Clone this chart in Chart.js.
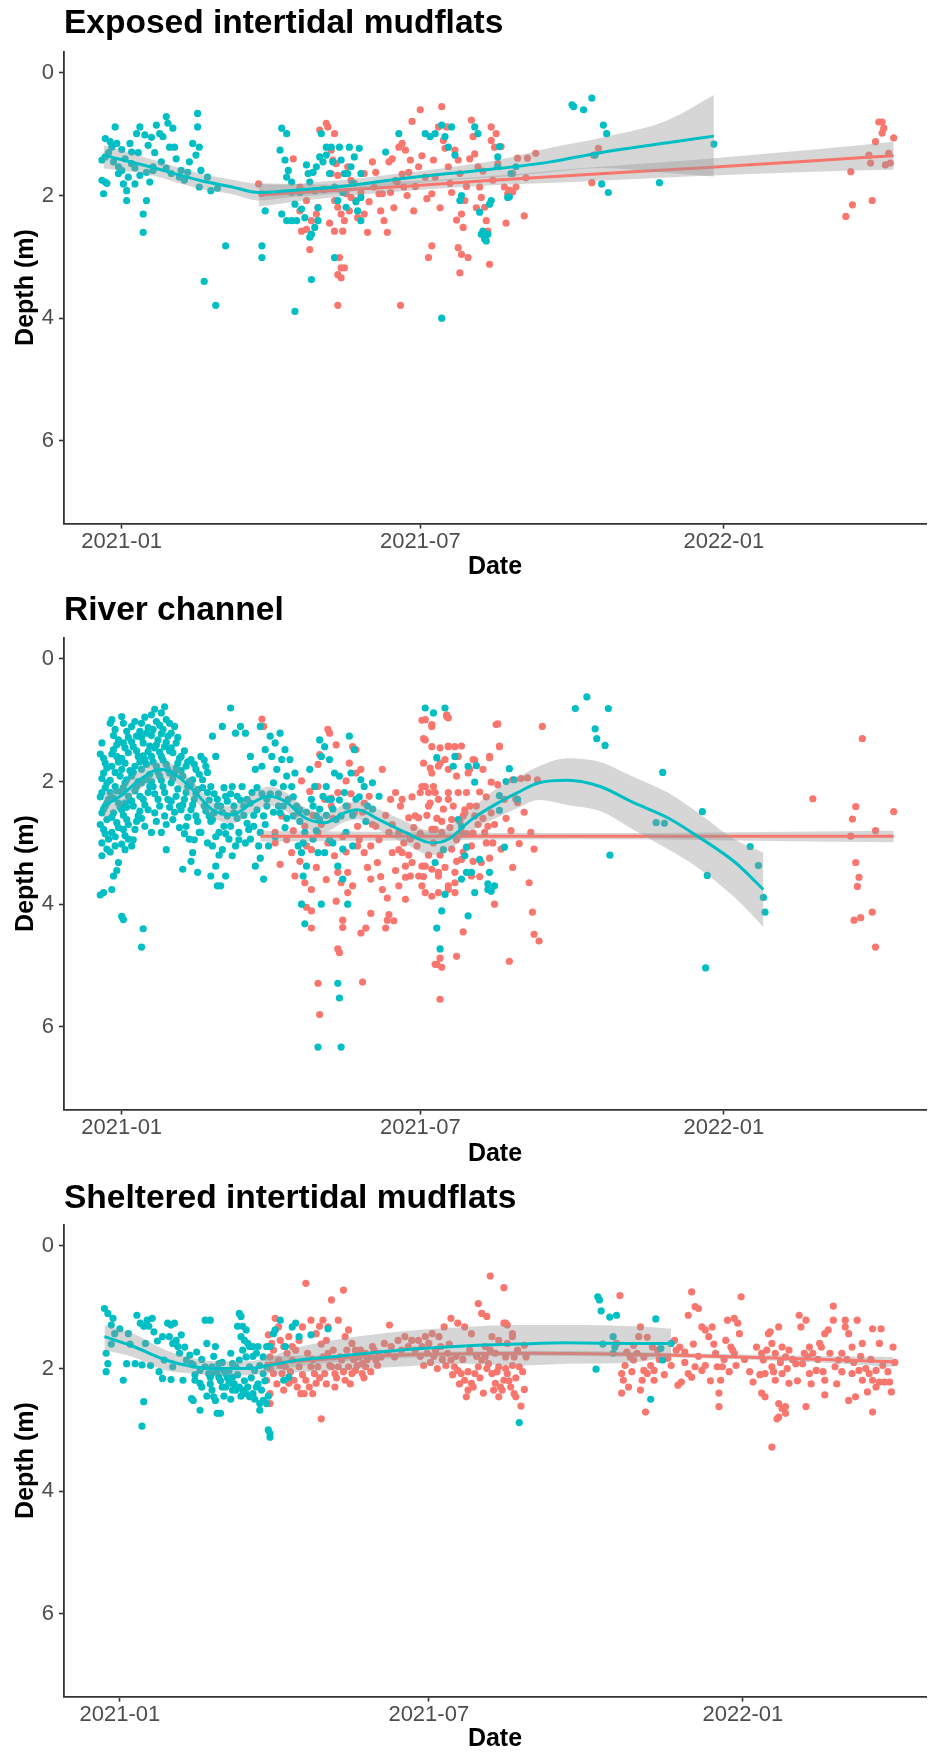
<!DOCTYPE html>
<html>
<head>
<meta charset="utf-8">
<title>Depth over time by habitat</title>
<script src="https://cdn.jsdelivr.net/npm/chart.js@4.4.1/dist/chart.umd.min.js"></script>
<style>
  html, body { margin: 0; padding: 0; background: #ffffff; }
  body { position: relative; width: 930px; height: 1754px; overflow: hidden; }
  canvas { position: absolute; left: 0; display: block; }
</style>
</head>
<body>
<canvas id="c1" width="930" height="586" style="top:0px"></canvas>
<canvas id="c2" width="930" height="587" style="top:586px"></canvas>
<canvas id="c3" width="930" height="581" style="top:1173px"></canvas>
<script>
// ---- Axis labels -------------------------------------------------------
const DAY0 = '2021-01-01';                      // x values are days since this date
const xTickLabels = ['2021-01', '2021-07', '2022-01'];
const yTicks = [0, 2, 4, 6];
const panelTitles = ['Exposed intertidal mudflats', 'River channel', 'Sheltered intertidal mudflats'];

// ---- Observations: [day, depth (m)]; A = red group, B = teal group ------
const exposedA = [
  [83,1.81],[85,1.97],[104,1.40],[108,2.25],[109,2.58],[114,2.88],[115,2.41],[120,0.93],[124,0.82],[125,0.88],
  [129,0.99],[127,1.26],[128,1.42],[130,1.48],[131,1.67],[129,2.08],[131,2.19],[133,2.30],[135,2.41],[134,2.58],
  [129,2.58],[132,3.01],[133,3.18],[135,3.18],[131,3.29],[133,3.34],[137,1.53],[136,1.97],[139,1.75],[142,2.08],
  [143,2.36],[147,2.30],[149,2.60],[154,1.62],[158,1.97],[159,2.41],[161,2.60],[164,1.40],[166,1.75],[168,1.21],
  [170,1.15],[172,1.26],[171,1.86],[175,1.42],[176,0.79],[177,2.25],[180,1.53],[181,0.60],[184,1.70],[186,3.01],
  [188,2.82],[188,1.97],[189,1.42],[192,0.88],[194,0.55],[195,1.10],[196,1.23],[197,0.88],[198,1.53],[200,1.95],
  [202,1.26],[204,1.42],[205,1.64],[206,2.30],[207,2.52],[208,2.08],[204,2.85],[206,2.96],[205,3.26],[210,3.01],
  [212,0.77],[213,1.04],[214,1.32],[216,1.53],[217,1.86],[218,2.03],[220,2.19],[221,2.41],[222,2.58],[224,1.10],
  [224,0.88],[227,0.99],[226,1.21],[223,3.12],[228,1.48],[232,1.86],[234,1.97],[237,1.64],[239,1.86],[162,1.45],
  [167,1.78],[174,1.62],[156,1.97],[153,1.86],[139,2.03],[147,1.64],[108,1.86],[112,2.08],[119,2.19],[127,1.64],
  [112,2.55],[118,2.30],[122,1.90],[126,2.45],[138,2.25],[141,1.80],[145,1.95],[150,2.10],[152,1.45],[157,2.25],
  [163,1.95],[165,2.20],[170,1.65],[173,2.00],[178,1.85],[182,1.35],[185,2.05],[190,1.70],[193,2.20],[199,1.80],
  [203,2.40],[209,1.85],[211,1.40],[215,2.20],[219,1.60],[225,1.75],[230,1.20],[233,2.45],
  [245,1.71],[251,1.31],[246,1.39],[240,1.39],[244,2.33],[237,1.94],[235,1.91],[285,1.79],[289,1.23],[286,1.34],
  [442,1.61],[439,2.34],[443,2.15],[455,2.08],[454,1.47],[457,1.12],[459,0.80],[461,0.80],[462,0.90],[461,0.98],
  [468,1.06],[465,1.31],[466,1.47],[463,1.50],[453,1.34],[131,3.79],[169,3.79]
];
const exposedB = [
  [-10,1.07],[-7,1.12],[-4,0.88],[-12,1.42],[-10,1.37],[-6,1.21],[-3,1.15],[-2,1.53],[0,1.59],[-2,1.64],
  [5,1.15],[6,1.29],[9,0.99],[11,0.88],[14,1.01],[16,1.18],[21,0.85],[23,0.99],[25,1.04],[27,0.71],
  [28,0.82],[29,1.21],[31,0.90],[30,1.64],[32,1.21],[36,1.59],[38,1.75],[41,1.45],[45,1.34],[46,0.88],
  [46,0.66],[47,1.21],[48,1.59],[-12,1.75],[-10,1.78],[-11,1.97],[-9,1.80],[1,1.81],[3,1.92],[3,2.08],
  [8,1.81],[15,2.08],[13,2.30],[13,2.60],[19,1.59],[17,1.78],[35,1.70],[47,1.86],[54,1.92],[50,3.40],
  [63,2.82],[85,2.82],[85,3.01],[87,2.25],[2,1.40],[6,1.48],[11,1.67],[15,1.62],[19,1.53],
  [-8,1.30],[-5,1.45],[0,1.25],[4,1.70],[8,1.55],[10,1.30],[18,1.05],[20,1.30],[24,1.45],[27,1.55],
  [33,1.40],[40,1.62],[43,1.15],[52,1.70],[58,1.88],
  [97,0.90],[100,0.99],[96,1.26],[99,1.42],[101,1.59],[103,1.78],[103,1.95],[105,2.14],[97,2.30],[100,2.41],
  [103,2.41],[106,2.41],[109,2.22],[111,2.36],[113,1.64],[114,1.78],[116,1.62],[117,1.92],[118,1.53],[120,1.37],
  [121,0.99],[122,1.45],[124,1.21],[124,1.34],[126,1.64],[127,1.21],[129,1.86],[131,2.08],[132,1.21],[133,1.42],
  [135,1.64],[138,1.21],[139,1.53],[141,1.37],[144,1.23],[145,1.64],[145,2.03],[143,2.25],[145,2.41],[115,2.63],
  [114,2.68],[119,2.41],[117,2.52],[129,3.01],[115,3.37],[136,2.19],[137,1.64],[160,1.29],[168,0.99],[184,0.99],
  [100,1.70],[108,1.95],[112,1.50],[119,2.20],[123,1.90],[128,1.45],[134,1.95],[140,1.80],[142,2.10],
  [187,1.04],[190,0.99],[194,0.85],[196,1.04],[200,0.88],[198,1.21],[202,1.34],[205,2.08],[206,2.00],[214,0.88],
  [216,0.99],[217,2.27],[218,2.63],[220,2.71],[222,2.63],[219,2.58],[221,2.74],[223,2.14],[224,2.08],[228,1.37],
  [234,2.03],[236,1.64],[239,1.53],[57,3.79],[105,3.89],[194,4.00],
  [274,0.55],[273,0.52],[280,0.60],[285,0.41],[292,0.85],[294,0.99],[287,1.34],[291,1.81],[295,1.95],[326,1.79],
  [359,1.16],[235,2.02],[229,1.20],[228,1.53]
];

const riverA = [
  [85,0.98],[86,1.10],[125,1.15],[126,1.21],[130,1.40],[140,1.43],[142,1.48],[120,1.56],[119,1.72],[138,1.70],
  [142,1.86],[145,1.80],[158,1.80],[136,1.99],[109,1.99],[114,2.16],[119,2.08],[123,2.29],[127,2.27],[131,2.18],
  [127,2.40],[137,2.40],[141,2.51],[147,2.35],[150,2.24],[166,2.18],[170,2.29],[163,2.29],[178,2.56],[186,2.18],
  [182,2.08],[189,2.08],[192,2.29],[186,2.40],[198,2.29],[204,2.18],[188,1.86],[183,1.70],[192,1.75],[196,1.64],
  [184,1.32],[188,1.43],[198,1.43],[202,1.43],[204,1.59],[210,1.86],[213,1.64],[227,1.07],[229,1.43],[223,1.59],
  [232,2.29],[239,2.29],[184,0.99],[188,1.10],[197,0.91],[198,0.96],[93,3.00],[103,3.16],[105,3.54],[111,3.65],
  [115,3.76],[115,3.11],[111,2.73],[119,2.83],[125,3.00],[129,3.21],[131,3.48],[133,3.65],[137,3.48],[137,3.81],
  [143,3.05],[147,3.16],[151,3.05],[155,3.32],[158,3.76],[164,3.16],[168,3.11],[172,3.38],[175,3.54],[182,3.38],
  [188,3.43],[192,3.54],[198,3.70],[202,3.48],[206,3.27],[168,2.83],[175,2.94],[162,2.83],[154,2.73],[143,2.73],
  [190,2.78],[194,2.83],[206,2.83],[220,2.83],[212,3.05],[214,2.56],[208,2.46],[224,2.51],[222,2.73],[151,3.59],
  [168,3.70],[184,3.81],[192,3.81],[202,3.81],[107,2.51],[93,2.83],[97,2.56],
  [96,3.35],[100,2.95],[104,2.80],[108,3.30],[112,3.05],[116,2.55],[118,3.40],[121,2.70],[124,3.60],[128,2.60],
  [130,3.95],[134,2.90],[136,3.15],[139,2.20],[140,3.70],[144,2.95],[146,2.50],[149,3.40],[152,2.70],[156,2.95],
  [157,3.55],[160,2.55],[161,3.90],[164,2.70],[166,3.45],[169,2.40],[171,3.00],[174,3.20],[176,2.25],[177,2.75],
  [179,3.05],[181,2.85],[183,3.55],[185,2.55],[186,3.20],[187,2.35],[189,3.00],[191,2.60],[193,3.20],[195,2.45],
  [196,3.40],[199,2.75],[200,3.10],[201,2.40],[203,2.95],[205,2.65],[207,3.15],[209,2.85],[211,2.40],[213,3.30],
  [216,2.70],[217,3.55],[219,2.60],[221,2.25],[223,3.25],[226,2.70],[228,2.05],[230,3.10],[233,2.60],[236,2.80],
  [244,2.50],[250,3.10],
  [182,1.00],[188,1.07],[197,0.94],[183,1.30],[193,1.45],[198,1.42],[206,1.42],[187,1.78],[193,1.70],[198,1.80],
  [203,1.91],[211,1.80],[214,1.65],[219,1.80],[223,1.61],[228,1.06],[229,1.42],[224,2.01],[217,2.17],[209,2.18],
  [198,2.18],[190,2.18],[181,2.18],[184,2.08],[174,2.59],[180,2.59],[188,2.78],[194,2.65],[200,2.62],[207,2.56],
  [215,2.40],[213,2.84],[221,3.00],[225,3.00],[218,3.32],[212,3.54],[202,3.65],[192,3.48],[184,3.38],[180,3.54],
  [172,3.56],[198,3.76],[188,3.87],[182,3.70],[170,3.16],[176,3.32],[203,3.30],[208,2.51],[239,2.28],[240,2.34],
  [241,3.01],[237,3.40],[247,3.65],[248,2.83],[242,1.95],[246,1.94],[252,1.97],[255,1.10],[237,1.97],[419,2.28],
  [449,1.30],[445,2.41],[443,2.61],[442,2.89],[457,2.80],[468,2.49],[445,3.32],[447,3.56],[446,3.71],
  [112,4.05],[115,4.11],[115,4.39],[119,5.29],[120,5.80],[146,5.27],[131,4.73],[132,4.79],[134,4.26],[134,4.38],
  [145,4.47],[148,4.39],[151,4.15],[160,4.39],[161,4.26],[165,4.27],[162,4.17],[172,3.92],[191,4.98],[226,4.00],
  [207,4.45],[203,4.85],[235,4.93],[249,4.13],[250,4.49],[253,4.60],[193,4.88],[190,4.98],[194,5.03],[193,5.55],
  [455,4.13],[448,4.22],[444,4.26],[457,4.70]
];
const riverB = [
  [-12,1.37],[-10,1.70],[-11,1.86],[-9,2.02],[-12,2.18],[-8,2.29],[-10,2.40],[-12,2.51],[-9,2.62],[-11,2.78],
  [-8,2.94],[-12,3.21],[-11,3.81],[-6,0.99],[-4,1.15],[-2,1.32],[-5,1.48],[-3,1.59],[-6,1.75],[-1,1.91],
  [-4,2.08],[-7,2.18],[-2,2.35],[-5,2.51],[-3,2.67],[-6,2.83],[-4,3.05],[-2,3.32],[-5,3.54],[-6,3.76],
  [-13,1.55],[-11,1.62],[-9,1.78],[-12,1.95],[-10,2.10],[-13,2.25],[-9,2.35],[-11,2.45],[-13,2.70],[-10,2.85],
  [-12,3.00],[-9,3.10],[-13,3.85],[-7,1.05],[-5,1.25],[-3,1.40],[-6,1.55],[-2,1.68],[-4,1.85],[-7,1.98],
  [-3,2.15],[-5,2.27],[-1,2.42],[-6,2.58],[-2,2.75],[-4,2.90],[-7,3.15],[-3,3.45],
  [0,0.94],[3,1.18],[1,1.37],[4,1.53],[2,1.70],[0,1.80],[3,1.97],[1,2.10],[4,2.24],[2,2.35],
  [0,2.46],[3,2.62],[1,2.78],[4,2.94],[2,3.11],[0,4.20],[1,4.25],[13,4.40],[12,4.70],
  [1,1.05],[4,1.28],[2,1.45],[0,1.62],[5,1.82],[2,2.02],[0,2.18],[5,2.30],[3,2.42],[1,2.55],[4,2.70],[2,2.88],[0,3.02],
  [6,1.10],[9,1.26],[7,1.43],[10,1.59],[8,1.75],[6,1.91],[9,2.08],[11,2.24],[7,2.40],[10,2.56],[8,2.78],[6,3.05],
  [8,1.02],[11,1.18],[6,1.35],[9,1.50],[11,1.68],[7,1.85],[10,2.00],[8,2.15],[6,2.32],[11,2.48],[9,2.65],[7,2.95],
  [12,1.05],[15,1.21],[13,1.37],[16,1.51],[14,1.64],[12,1.80],[15,1.97],[17,2.08],[13,2.29],[16,2.46],[14,2.73],
  [14,0.95],[16,1.12],[12,1.28],[17,1.42],[13,1.58],[15,1.72],[17,1.88],[12,2.02],[16,2.18],[14,2.38],[12,2.60],
  [18,0.91],[21,1.02],[19,1.15],[22,1.32],[20,1.45],[18,1.59],[21,1.75],[23,1.91],[19,2.08],[22,2.29],[20,2.51],[18,2.83],
  [20,0.82],[23,1.08],[18,1.25],[21,1.40],[23,1.52],[19,1.68],[22,1.85],[18,2.00],[20,2.20],[23,2.40],[21,2.65],
  [24,0.88],[27,0.99],[25,1.15],[28,1.26],[26,1.43],[24,1.59],[27,1.72],[29,1.86],[25,2.08],[28,2.29],[26,2.56],[24,2.83],[27,3.11],
  [26,0.78],[29,1.05],[24,1.22],[27,1.36],[29,1.50],[25,1.65],[28,1.80],[24,1.98],[26,2.18],[29,2.42],[27,2.70],
  [30,1.21],[33,1.37],[31,1.53],[34,1.70],[32,1.86],[30,2.02],[33,2.24],[35,2.40],[31,2.62],
  [32,1.10],[34,1.28],[30,1.45],[35,1.62],[33,1.78],[31,1.95],[34,2.12],[30,2.32],[32,2.50],[35,2.75],
  [36,1.59],[39,1.75],[37,1.91],[40,2.08],[38,2.29],[36,2.46],[39,2.73],[41,2.94],[37,3.43],
  [38,1.50],[40,1.68],[36,1.82],[41,2.00],[39,2.18],[37,2.38],[40,2.58],[38,2.85],
  [42,1.64],[45,1.80],[43,1.97],[46,2.13],[44,2.29],[42,2.46],[45,2.56],[47,2.83],[43,3.16],[46,3.48],
  [44,1.72],[47,1.88],[42,2.05],[45,2.20],[43,2.38],[46,2.65],[44,2.95],[42,3.30],
  [48,1.59],[51,1.75],[49,1.97],[52,2.18],[50,2.40],[53,2.56],[48,2.83],
  [50,1.65],[52,1.85],[49,2.10],[53,2.30],[51,2.48],[54,2.65],[56,2.20],[58,2.40],[55,2.62],[57,2.90],[52,3.00],[59,3.20],
  [55,1.26],[57,1.59],[54,2.08],[58,2.29],[56,2.51],[59,2.83],[55,3.05],[57,3.38],[54,3.54],[58,3.70],
  [61,1.10],[63,2.24],[60,2.40],[64,2.56],[62,2.73],[65,2.94],[61,3.11],[63,3.54],[60,3.70],
  [66,0.80],[69,1.21],[67,2.08],[70,2.24],[68,2.51],[66,2.73],[71,2.83],[69,3.05],[67,3.21],
  [62,2.10],[64,2.32],[61,2.50],[66,2.20],[68,2.40],[70,2.60],[72,2.30],[74,2.55],[76,2.68],[78,2.35],
  [80,2.55],[63,2.85],[71,2.95],[75,3.00],
  [72,1.10],[75,1.21],[73,2.08],[76,2.29],[74,2.40],[77,2.78],
  [78,1.59],[81,1.80],[79,2.18],[82,2.46],[80,2.73],[78,2.94],[83,3.05],[81,3.38],
  [84,1.10],[87,1.48],[85,1.75],[88,2.29],[86,2.56],[84,2.83],[89,3.05],[86,3.59],
  [82,2.10],[85,2.20],[88,2.40],[90,2.20],[92,2.50],[95,2.20],[98,2.40],[100,2.60],[87,2.70],[93,2.90],[99,2.75],[84,3.25],
  [90,1.26],[93,1.37],[91,1.59],[94,1.80],[92,2.02],[95,2.40],
  [96,1.21],[99,1.48],[97,1.64],[100,1.91],[98,2.08],[101,2.29],[96,2.51],
  [102,1.64],[105,1.86],[103,2.08],[106,2.40],[104,2.56],[107,3.05],
  [104,2.25],[108,2.65],[112,2.50],[116,2.40],[120,2.45],[124,2.55],[128,2.45],[132,2.30],[136,2.40],[140,2.55],
  [144,2.25],[148,2.65],[152,2.45],[110,3.00],[118,2.80],[126,2.95],[134,3.10],
  [108,2.46],[111,2.83],[109,3.16],[112,3.38],[110,3.54],[109,4.00],[111,4.32],
  [114,1.80],[117,2.08],[115,2.29],[118,2.56],[116,2.94],[119,3.16],[119,6.33],[121,4.00],
  [120,1.32],[123,1.43],[121,1.59],[124,2.08],[122,2.24],[125,2.29],[120,2.62],[123,3.16],
  [126,1.64],[129,1.86],[127,2.29],[130,2.62],[128,3.00],[131,3.38],[131,5.29],[132,5.53],[133,6.33],[137,4.00],
  [132,1.91],[135,2.18],[133,2.56],[136,2.83],[134,3.59],
  [138,1.26],[141,1.48],[139,1.86],[142,2.29],[140,3.05],[145,1.97],[147,2.08],[149,2.40],[152,2.02],[156,2.24],
  [184,0.80],[189,0.88],[196,0.80],[191,1.61],[201,1.75],[202,1.59],[215,1.74],[214,2.01],[235,1.79],[233,2.00],
  [229,2.23],[229,2.47],[232,3.07],[209,3.07],[217,3.27],[223,3.48],[222,3.67],[224,3.79],[209,3.48],[206,3.59],
  [190,3.32],[195,3.11],[196,3.84],[275,0.81],[282,0.62],[295,0.81],[287,1.14],[288,1.30],[293,1.41],[328,1.85],
  [352,2.49],[324,2.67],[329,2.68],[296,3.20],[355,3.53],[381,3.06],[386,3.37],[389,3.89],[354,5.04],[390,4.13],
  [194,4.11],[191,4.39],[193,4.73],[210,4.19],[204,2.62],[206,2.73],[208,3.21],[212,3.48],[214,3.81],[210,1.75],
  [222,3.76],[226,3.70],[238,1.97],[240,2.29]
];

const shelteredA = [
  [87,1.45],[91,1.18],[93,1.32],[89,1.59],[94,1.54],[96,1.64],[99,1.48],[101,1.64],[105,1.54],[107,1.32],
  [109,0.61],[112,1.21],[115,1.43],[117,1.31],[119,1.21],[121,1.54],[122,1.32],[124,0.88],[128,1.21],[131,0.72],
  [132,1.48],[134,1.37],[136,1.59],[138,1.70],[140,1.81],[142,1.92],[144,1.75],[148,1.64],[152,1.75],[155,1.59],
  [158,1.29],[159,1.64],[163,1.54],[167,1.48],[171,1.54],[175,1.54],[179,1.48],[183,1.43],[187,1.48],[190,1.32],
  [194,1.18],[198,1.26],[202,1.32],[206,1.43],[210,0.94],[212,1.10],[215,1.15],[217,0.49],[225,0.68],[225,1.26],
  [222,1.54],[218,1.48],[227,1.59],[230,1.43],[88,1.81],[86,2.19],[88,2.41],[88,2.57],[90,2.08],[93,1.86],
  [95,2.08],[97,1.97],[99,2.24],[101,1.86],[102,2.19],[105,1.97],[106,2.41],[108,2.41],[109,2.19],[112,1.97],
  [113,2.41],[114,2.08],[115,2.24],[116,1.97],[118,2.82],[119,1.81],[120,2.08],[122,1.75],[124,1.97],[126,2.08],
  [128,1.97],[130,1.86],[132,2.19],[126,2.30],[129,1.81],[134,1.97],[136,2.08],[138,2.03],[142,2.08],[144,1.97],
  [146,1.81],[150,1.86],[153,1.81],[157,1.75],[161,1.81],[165,1.70],[169,1.64],[173,1.70],[177,1.64],[181,1.59],
  [185,1.70],[188,1.64],[192,1.75],[194,1.86],[196,1.97],[198,2.03],[200,2.08],[202,2.19],[203,2.46],[204,2.35],
  [206,2.24],[208,2.08],[210,1.97],[212,1.86],[214,1.81],[216,1.92],[218,2.08],[220,2.24],[222,2.46],[223,2.30],
  [225,2.19],[227,2.08],[229,2.30],[231,2.41],[222,1.97],[214,1.64],[226,1.81],[220,1.75],
  [88,2.00],[90,1.70],[92,2.25],[94,1.95],[96,2.35],[98,1.75],[100,2.05],[103,1.70],[104,2.30],[107,2.10],
  [110,1.75],[111,2.30],[113,1.85],[117,2.15],[118,1.60],[121,2.25],[123,1.95],[125,1.70],[127,2.15],[131,2.05],
  [133,1.70],[135,2.25],[137,1.85],[139,1.95],[141,1.70],[143,2.15],[145,1.85],[147,2.05],[149,1.70],[151,1.95],
  [176,1.80],[178,1.95],[180,1.75],[182,1.90],[184,1.80],[186,2.00],[189,1.85],[191,1.95],[193,1.60],[195,2.10],
  [197,1.80],[199,2.25],[201,1.85],[204,2.05],[205,1.70],[207,2.30],[209,1.80],[211,2.15],[213,2.40],[215,2.00],
  [217,1.70],[219,2.35],[221,2.05],[224,2.35],[226,2.00],[228,2.20],[230,1.95],[232,2.15],[233,1.70],
  [235,2.61],[232,2.46],[237,2.34],[236,2.05],[234,1.97],[238,1.81],[231,1.81],[237,1.62],[230,1.48],[227,1.29],
  [226,1.26],[293,0.81],[305,1.32],[304,1.48],[309,1.49],[301,1.62],[291,1.59],[297,1.73],[299,1.81],[301,1.86],
  [307,1.81],[315,1.70],[313,2.03],[307,2.03],[306,2.19],[313,2.19],[309,2.08],[294,2.08],[295,2.19],[294,2.40],
  [308,2.71],[321,1.83],[325,1.54],[328,1.65],[331,1.73],[333,1.13],[337,0.99],[335,0.75],[339,1.02],[341,1.32],
  [343,1.37],[347,1.32],[345,1.48],[333,2.08],[329,2.22],[327,2.27],[335,2.14],[337,1.97],[341,2.03],[349,1.75],
  [350,1.97],[352,2.19],[351,2.40],[353,1.97],[355,1.54],[356,1.21],[360,1.18],[362,1.26],[363,1.43],[364,0.83],
  [351,2.62],[358,1.65],[359,1.70],[360,1.75],[371,2.22],[376,1.75],[377,1.86],[380,1.43],[381,1.40],[386,1.32],
  [382,1.59],[384,1.75],[388,1.65],[390,1.81],[392,1.70],[378,2.08],[382,1.97],[384,2.19],[388,2.08],[392,2.24],
  [376,2.40],[378,2.46],[386,2.57],[388,2.65],[390,2.73],[385,2.82],[382,3.28],[398,1.13],[399,1.32],[402,1.21],
  [404,1.65],[403,1.81],[396,1.92],[400,1.92],[406,1.75],[404,2.08],[408,2.03],[410,1.59],[411,1.65],[413,1.43],
  [415,1.37],[418,0.98],[418,1.21],[413,2.19],[413,2.43],[419,1.97],[421,1.86],[423,1.75],[425,1.21],[425,1.32],
  [427,1.43],[432,1.21],[429,1.65],[435,1.59],[427,2.52],[431,2.46],[429,2.08],[433,2.03],[435,2.19],[438,2.38],
  [439,2.08],[443,2.03],[441,2.19],[445,2.22],[448,2.22],[451,2.22],[452,2.38],[441,1.35],[446,1.35],[445,1.59],
  [453,1.65],[441,2.71],[402,2.62],[386,2.79],[390,2.62],
  [296,1.95],[298,2.30],[300,2.05],[303,1.75],[305,2.35],[311,1.95],[312,1.65],[316,1.85],[319,2.10],[323,1.95],
  [326,1.70],[331,1.90],[336,1.60],[339,1.80],[343,1.95],[346,2.20],[348,1.60],[354,1.85],[357,2.05],[361,1.95],
  [366,1.85],[369,2.05],[373,1.65],[375,2.10],[379,1.70],[383,2.05],[387,1.90],[391,2.00],[394,1.85],[397,2.20],
  [401,1.75],[405,2.25],[409,1.85],[412,2.05],[416,1.75],[420,2.25],[423,2.05],[426,1.85],[430,1.90],[434,1.80],
  [437,2.00],[440,1.85],[443,2.30],[447,1.95],[450,2.05],[454,1.90]
];
const shelteredB = [
  [-9,1.02],[-7,1.10],[-4,1.18],[-5,1.29],[-3,1.43],[-8,1.75],[-7,1.92],[-8,2.05],[2,2.19],[5,1.43],
  [4,1.92],[10,1.13],[9,1.92],[13,1.94],[14,2.54],[13,2.94],[12,1.26],[14,1.31],[16,1.21],[17,1.31],
  [19,1.18],[15,1.59],[25,1.48],[26,1.86],[28,1.26],[29,1.48],[30,1.29],[31,1.59],[32,1.26],[33,1.54],
  [34,1.64],[35,1.75],[25,2.16],[30,2.18],[31,1.97],[37,2.19],[39,1.86],[41,1.78],[42,1.92],[43,1.94],
  [45,1.73],[47,2.03],[50,1.21],[53,1.21],[51,1.59],[52,2.08],[53,2.14],[54,2.08],[56,1.64],[54,1.97],
  [58,1.92],[62,2.08],[64,2.03],[66,1.92],[68,1.97],[70,1.86],[70,1.10],[71,1.15],[69,1.31],[72,1.31],
  [74,1.37],[71,1.48],[73,1.54],[75,1.59],[76,1.64],[78,1.64],[80,1.75],[72,1.70],[74,1.81],[81,1.64],
  [43,2.52],[42,2.49],[47,2.68],[54,2.35],[55,2.46],[56,2.52],[57,2.73],[59,2.73],[60,2.30],[62,2.30],
  [64,2.24],[66,2.35],[68,2.35],[70,2.30],[72,2.35],[74,2.41],[76,2.46],[78,2.41],[80,2.30],[82,2.57],
  [84,2.52],[82,2.68],[86,2.57],[87,3.00],[88,3.06],[88,3.12],[44,2.19],[47,2.24],[50,1.97],[58,2.14],
  [61,2.03],[66,2.14],[76,1.97],[79,2.03],[84,2.08],[86,1.97],[84,1.81],[86,1.64],[88,1.64],[90,1.43],
  [94,1.21],[91,1.37],[97,1.64],[96,2.19],[99,2.14],[101,1.32],[103,1.26],[105,1.48],[112,1.45],[122,1.35],
  [44,2.10],[48,2.30],[51,2.45],[53,2.25],[57,2.05],[59,2.20],[61,2.45],[63,2.15],[65,2.50],[67,2.25],
  [69,2.10],[71,2.45],[73,2.20],[75,2.30],[77,2.15],[79,2.50],[81,2.25],[83,2.35],[85,2.20],[87,2.45],
  [48,1.85],[55,1.80],[60,1.90],[65,1.75],[78,1.80],[82,1.95],[20,1.40],[22,1.55],[36,1.45],[38,1.65],
  [-5,1.60],[0,1.35],[6,1.60],[18,1.95],[23,2.05],
  [280,0.83],[281,0.88],[282,1.06],[287,1.16],[291,1.13],[314,1.19],[289,1.48],[290,1.65],[283,1.60],[289,1.75],
  [317,1.67],[318,1.86],[323,1.59],[279,2.01],[311,2.50],[234,2.88]
];

// ---- Smoothed trends: [day, fit, lower 95% bound, upper 95% bound] --------
const exposedFitA = [
  [83,1.99,1.80,2.18],[120,1.93,1.82,2.05],[170,1.85,1.77,1.93],[220,1.76,1.69,1.84],
  [280,1.66,1.55,1.77],[350,1.55,1.41,1.68],[420,1.43,1.25,1.61],[468,1.35,1.12,1.58]
];
const exposedFitB = [
  [-11,1.34,1.18,1.56],[17,1.53,1.40,1.66],[47,1.75,1.64,1.89],[67,1.86,1.74,1.98],[83,1.95,1.81,2.08],
  [101,1.92,1.82,2.03],[117,1.89,1.78,2.00],[137,1.84,1.74,1.94],[168,1.73,1.64,1.83],[198,1.64,1.54,1.75],
  [228,1.56,1.42,1.70],[260,1.45,1.22,1.62],[290,1.30,1.06,1.55],[331,1.14,0.77,1.63],[359,1.03,0.36,1.69]
];
const riverFitA = [
  [84,2.89,2.80,2.98],[276,2.89,2.84,2.94],[468,2.89,2.80,2.99]
];
const riverFitB = [
  [-11,2.40,2.21,2.62],[-1,2.24,2.08,2.42],[11,1.97,1.80,2.13],[23,1.80,1.68,1.95],[31,1.86,1.72,1.99],
  [43,2.13,2.00,2.28],[55,2.46,2.33,2.58],[67,2.54,2.40,2.68],[79,2.35,2.20,2.50],[89,2.24,2.08,2.40],
  [99,2.32,2.17,2.47],[111,2.59,2.42,2.76],[123,2.67,2.52,2.82],[135,2.51,2.37,2.66],[143,2.46,2.32,2.62],
  [156,2.62,2.45,2.79],[172,2.83,2.65,3.02],[188,3.00,2.80,3.20],[198,2.94,2.74,3.13],[212,2.62,2.44,2.80],
  [228,2.35,2.10,2.58],[240,2.18,1.93,2.43],[253,2.02,1.75,2.30],[270,1.98,1.62,2.38],[290,2.08,1.68,2.48],
  [310,2.34,1.92,2.78],[331,2.59,2.18,3.10],[349,2.89,2.50,3.40],[372,3.32,2.95,3.90],[389,3.76,3.16,4.37]
];
const shelteredFitA = [
  [85,1.92,1.80,2.04],[124,1.84,1.78,1.90],[163,1.78,1.73,1.83],[202,1.76,1.72,1.80],
  [242,1.75,1.71,1.79],[321,1.78,1.74,1.82],[400,1.84,1.79,1.89],[453,1.89,1.81,1.97]
];
const shelteredFitB = [
  [-9,1.48,1.29,1.70],[8,1.64,1.43,1.81],[27,1.86,1.70,2.03],[43,1.97,1.83,2.08],[56,2.00,1.88,2.11],
  [76,2.00,1.88,2.11],[85,1.96,1.83,2.09],[105,1.86,1.65,2.06],[124,1.81,1.54,2.03],[163,1.70,1.40,1.97],
  [202,1.63,1.32,1.92],[233,1.60,1.29,1.95],[262,1.58,1.29,1.92],[301,1.59,1.31,1.90],[323,1.59,1.35,1.80]
];

// ---- Drawing ------------------------------------------------------------
const RED = '#F8766D';
const TEAL = '#00BFC4';
const BAND = 'rgba(153,153,153,0.4)';
const AXIS = '#333333';
const TICK_TEXT = '#4D4D4D';

Chart.defaults.font.family = "'Liberation Sans', Arial, Helvetica, sans-serif";

const dayOf = s => (Date.parse(s + 'T00:00:00Z') - Date.parse(DAY0 + 'T00:00:00Z')) / 864e5;
const xTickDays = xTickLabels.map(l => dayOf(l + '-01'));

function pointSet(rows, color, order) {
  return {
    type: 'scatter',
    data: rows.map(([x, y]) => ({ x, y })),
    pointRadius: 3.6,
    pointBackgroundColor: color,
    pointBorderColor: color,
    pointBorderWidth: 0,
    order
  };
}

function trendSets(rows, color, order) {
  const base = { type: 'line', pointRadius: 0, cubicInterpolationMode: 'monotone' };
  return [
    { ...base, data: rows.map(r => ({ x: r[0], y: r[2] })), borderColor: 'transparent', borderWidth: 0, fill: false, order: order + 1 },
    { ...base, data: rows.map(r => ({ x: r[0], y: r[3] })), borderColor: 'transparent', borderWidth: 0, fill: '-1', backgroundColor: BAND, order: order + 1 },
    { ...base, data: rows.map(r => ({ x: r[0], y: r[1] })), borderColor: color, borderWidth: 3, fill: false, order }
  ];
}

const AREA_BOTTOM = 523.6;   // x-axis line, measured from the top of each canvas

function drawPanel(cfg) {
  const canvas = document.getElementById(cfg.id);
  const h = canvas.height;
  return new Chart(canvas, {
    type: 'scatter',
    data: {
      datasets: [
        pointSet(cfg.a, RED, 60),
        pointSet(cfg.b, TEAL, 50),
        ...trendSets(cfg.fitA, RED, 40),
        ...trendSets(cfg.fitB, TEAL, 30)
      ]
    },
    options: {
      responsive: false,
      animation: false,
      events: [],
      layout: { padding: 0 },
      plugins: {
        legend: { display: false },
        tooltip: { enabled: false },
        title: {
          display: true,
          text: cfg.title,
          align: 'start',
          fullSize: false,
          color: '#000000',
          font: { size: 33.5, weight: 'bold' },
          padding: { top: cfg.titleTop, bottom: 51.5 - 40.2 - cfg.titleTop }
        }
      },
      scales: {
        x: {
          type: 'linear',
          min: cfg.xMin,
          max: cfg.xMax,
          afterFit: s => { s.height = h - AREA_BOTTOM; },
          afterBuildTicks: s => { s.ticks = xTickDays.map(v => ({ value: v })); },
          ticks: {
            callback: v => xTickLabels[xTickDays.indexOf(v)],
            color: TICK_TEXT,
            font: { size: 22 },
            padding: 0,
            autoSkip: false,
            maxRotation: 0
          },
          grid: { display: true, drawOnChartArea: false, drawTicks: true, tickLength: 5, tickColor: AXIS, tickWidth: 1.6 },
          border: { display: true, color: AXIS, width: 1.8 },
          title: {
            display: true, text: 'Date', color: '#000000',
            font: { size: 25, weight: 'bold' },
            padding: { top: 0, bottom: cfg.dateGap }
          }
        },
        y: {
          type: 'linear',
          reverse: true,
          min: -0.35,
          max: 7.35,
          afterFit: s => { s.width = 64; },
          afterBuildTicks: s => { s.ticks = yTicks.map(v => ({ value: v })); },
          ticks: { callback: v => String(v), color: TICK_TEXT, font: { size: 22 }, padding: 5 },
          grid: { display: true, drawOnChartArea: false, drawTicks: true, tickLength: 5, tickColor: AXIS, tickWidth: 1.6 },
          border: { display: true, color: AXIS, width: 1.8 },
          title: {
            display: true, text: 'Depth (m)', color: '#000000',
            font: { size: 25, weight: 'bold' },
            padding: { top: 11, bottom: 0 }
          }
        }
      }
    }
  });
}

drawPanel({ id: 'c1', title: panelTitles[0], a: exposedA, b: exposedB, fitA: exposedFitA, fitB: exposedFitB,
            xMin: -35, xMax: 487.6, titleTop: 3.2, dateGap: 4 });
drawPanel({ id: 'c2', title: panelTitles[1], a: riverA, b: riverB, fitA: riverFitA, fitB: riverFitB,
            xMin: -35, xMax: 487.6, titleTop: 4.2, dateGap: 4 });
drawPanel({ id: 'c3', title: panelTitles[2], a: shelteredA, b: shelteredB, fitA: shelteredFitA, fitB: shelteredFitB,
            xMin: -32.7, xMax: 472.3, titleTop: 5.5, dateGap: 0 });
</script>
</body>
</html>
